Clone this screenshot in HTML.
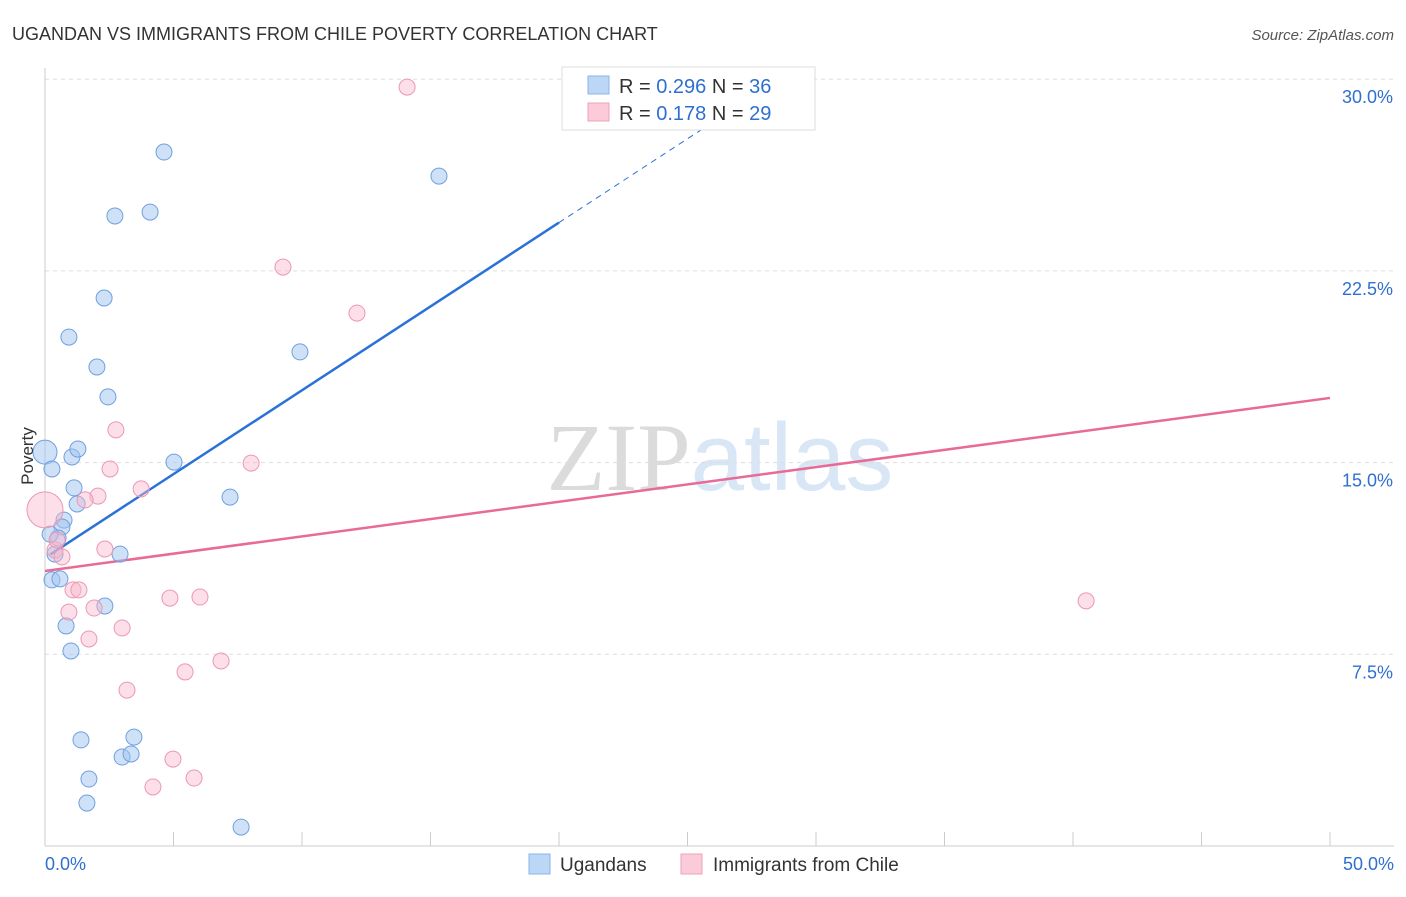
<!DOCTYPE html>
<html><head><meta charset="utf-8">
<style>
body{margin:0;background:#fff;font-family:"Liberation Sans",sans-serif;}
svg text{font-family:"Liberation Sans",sans-serif;}
</style></head>
<body>
<svg id="chart" width="1406" height="892" xmlns="http://www.w3.org/2000/svg">
<text x="12" y="40" font-size="18" fill="#333">UGANDAN VS IMMIGRANTS FROM CHILE POVERTY CORRELATION CHART</text>
<text x="1394" y="40" font-size="15" fill="#555" text-anchor="end" font-style="italic">Source: ZipAtlas.com</text>
<text x="720" y="490" font-size="96" text-anchor="middle" fill="#ddd" opacity="0.7"><tspan font-family="Liberation Serif" fill="#ccc">ZIP</tspan><tspan fill="#c9dcf2">atlas</tspan></text>
<g id="grid"></g><g id="axes"></g><g id="trends"></g><g id="points"></g>
<g>
<rect x="562" y="67" width="253" height="63" fill="#fff" stroke="#ddd"/>
<rect x="588" y="76" width="21" height="18" fill="#bcd6f6" stroke="#8ab4e8"/>
<rect x="588" y="103" width="21" height="18" fill="#fbcbd9" stroke="#f0a0b8"/>
<text x="619" y="93" font-size="20" fill="#333">R = <tspan fill="#2f6fd0">0.296</tspan>   N = <tspan fill="#2f6fd0">36</tspan></text>
<text x="619" y="120" font-size="20" fill="#333">R =  <tspan fill="#2f6fd0">0.178</tspan>   N = <tspan fill="#2f6fd0">29</tspan></text>
</g>
<g>
<rect x="529" y="854" width="21" height="20" fill="#bcd6f6" stroke="#8ab4e8"/>
<text x="560" y="871" font-size="19" fill="#333">Ugandans</text>
<rect x="681" y="854" width="21" height="20" fill="#fbcbd9" stroke="#f0a0b8"/>
<text x="713" y="871" font-size="19" fill="#333">Immigrants from Chile</text>
</g>
<text transform="translate(33,456) rotate(-90)" font-size="17" fill="#333" text-anchor="middle">Poverty</text>
</svg>
<script>
const yTicks=[7.5,15,22.5,30];
const yTickLabels=["7.5%","15.0%","22.5%","30.0%"];
const blueX=[0,0.27,1.05,1.28,1.13,1.25,0.74,0.66,0.51,0.39,0.27,0.58,2.92,2.33,0.82,1.01,1.40,1.71,1.63,3.00,3.35,3.46,4.63,2.72,4.09,2.30,0.93,2.02,2.45,5.02,7.20,9.92,15.33,7.63,0.2];
const blueY=[15.41,14.75,15.22,15.53,14.01,13.38,12.75,12.48,12.05,11.42,10.41,10.45,11.42,9.39,8.61,7.63,4.15,2.62,1.68,3.48,3.60,4.26,27.15,24.65,24.80,21.44,19.91,18.74,17.57,15.02,13.65,19.33,26.21,0.74,12.2];
const pinkX=[14.09,9.26,12.14,2.76,2.53,8.02,2.06,1.56,3.74,0.39,0.66,2.33,1.09,1.32,0.93,1.91,3.00,1.71,4.86,6.03,3.19,5.45,6.85,4.98,5.80,4.20,40.51,0.47,0];
const pinkY=[29.69,22.65,20.85,16.28,14.75,14.98,13.69,13.54,13.97,11.58,11.31,11.62,10.02,10.02,9.15,9.31,8.53,8.10,9.70,9.74,6.10,6.81,7.24,3.40,2.66,2.31,9.59,11.97,13.15];
const blueTrend=[11.27,0.656];
const pinkTrend=[10.76,0.1354];
const NS="http://www.w3.org/2000/svg";
const X=v=>45+v/50*1285, Y=v=>846-v/7.5*191.7;
function mk(t,a,p){const e=document.createElementNS(NS,t);for(const k in a)e.setAttribute(k,a[k]);document.getElementById(p).appendChild(e);return e;}
yTicks.forEach((t,i)=>{
 const l=mk('line',{x1:45,x2:1394,y1:Y(t),y2:Y(t),stroke:'#ddd','stroke-dasharray':'4,4'},'grid');
 
 
 const tx=mk('text',{x:1393,y:Y(t)+24,'font-size':18,fill:'#2f6fd0','text-anchor':'end'},'grid');
 tx.textContent=yTickLabels[i];
 
 
});
let a=mk('line',{x1:45,x2:45,y1:68,y2:846,stroke:'#ccc'},'axes');


a=mk('line',{x1:45,x2:1394,y1:846,y2:846,stroke:'#ccc'},'axes');


for(let i=0;i<=10;i++){const t=mk('line',{x1:X(i*5),x2:X(i*5),y1:832,y2:846,stroke:'#ccc'},'axes');
 
 }
[["0.0%",45,"start"],["50.0%",1394,"end"]].forEach(d=>{const t=mk('text',{x:d[1],y:870,'font-size':18,fill:'#2f6fd0','text-anchor':d[2]},'axes');t.textContent=d[0];
 
 });
const bAt=x=>blueTrend[0]+blueTrend[1]*x, pAt=x=>pinkTrend[0]+pinkTrend[1]*x;
let ln=mk('line',{x1:X(0.2),y1:Y(bAt(0.2)),x2:X(20),y2:Y(bAt(20)),stroke:'#2a72d8','stroke-width':2.5},'trends');


const xe=(30-blueTrend[0])/blueTrend[1];
ln=mk('line',{x1:X(20),y1:Y(bAt(20)),x2:X(xe),y2:Y(30),stroke:'#2a72d8','stroke-width':1,'stroke-dasharray':'6,5'},'trends');


ln=mk('line',{x1:X(0),y1:Y(pAt(0)),x2:X(50),y2:Y(pAt(50)),stroke:'#e86a96','stroke-width':2.5},'trends');


blueX.forEach((x,i)=>{const c=mk('circle',{cx:X(x),cy:Y(blueY[i]),r:i==0?12:8,fill:'rgba(160,196,240,0.5)',stroke:'#6fa0e0','stroke-width':1},'points');
 
 });
pinkX.forEach((x,i)=>{const c=mk('circle',{cx:X(x),cy:Y(pinkY[i]),r:i==pinkX.length-1?18:8,fill:'rgba(248,184,204,0.45)',stroke:'#ec97b3','stroke-width':1},'points');
 
 });
</script>
</body></html>
